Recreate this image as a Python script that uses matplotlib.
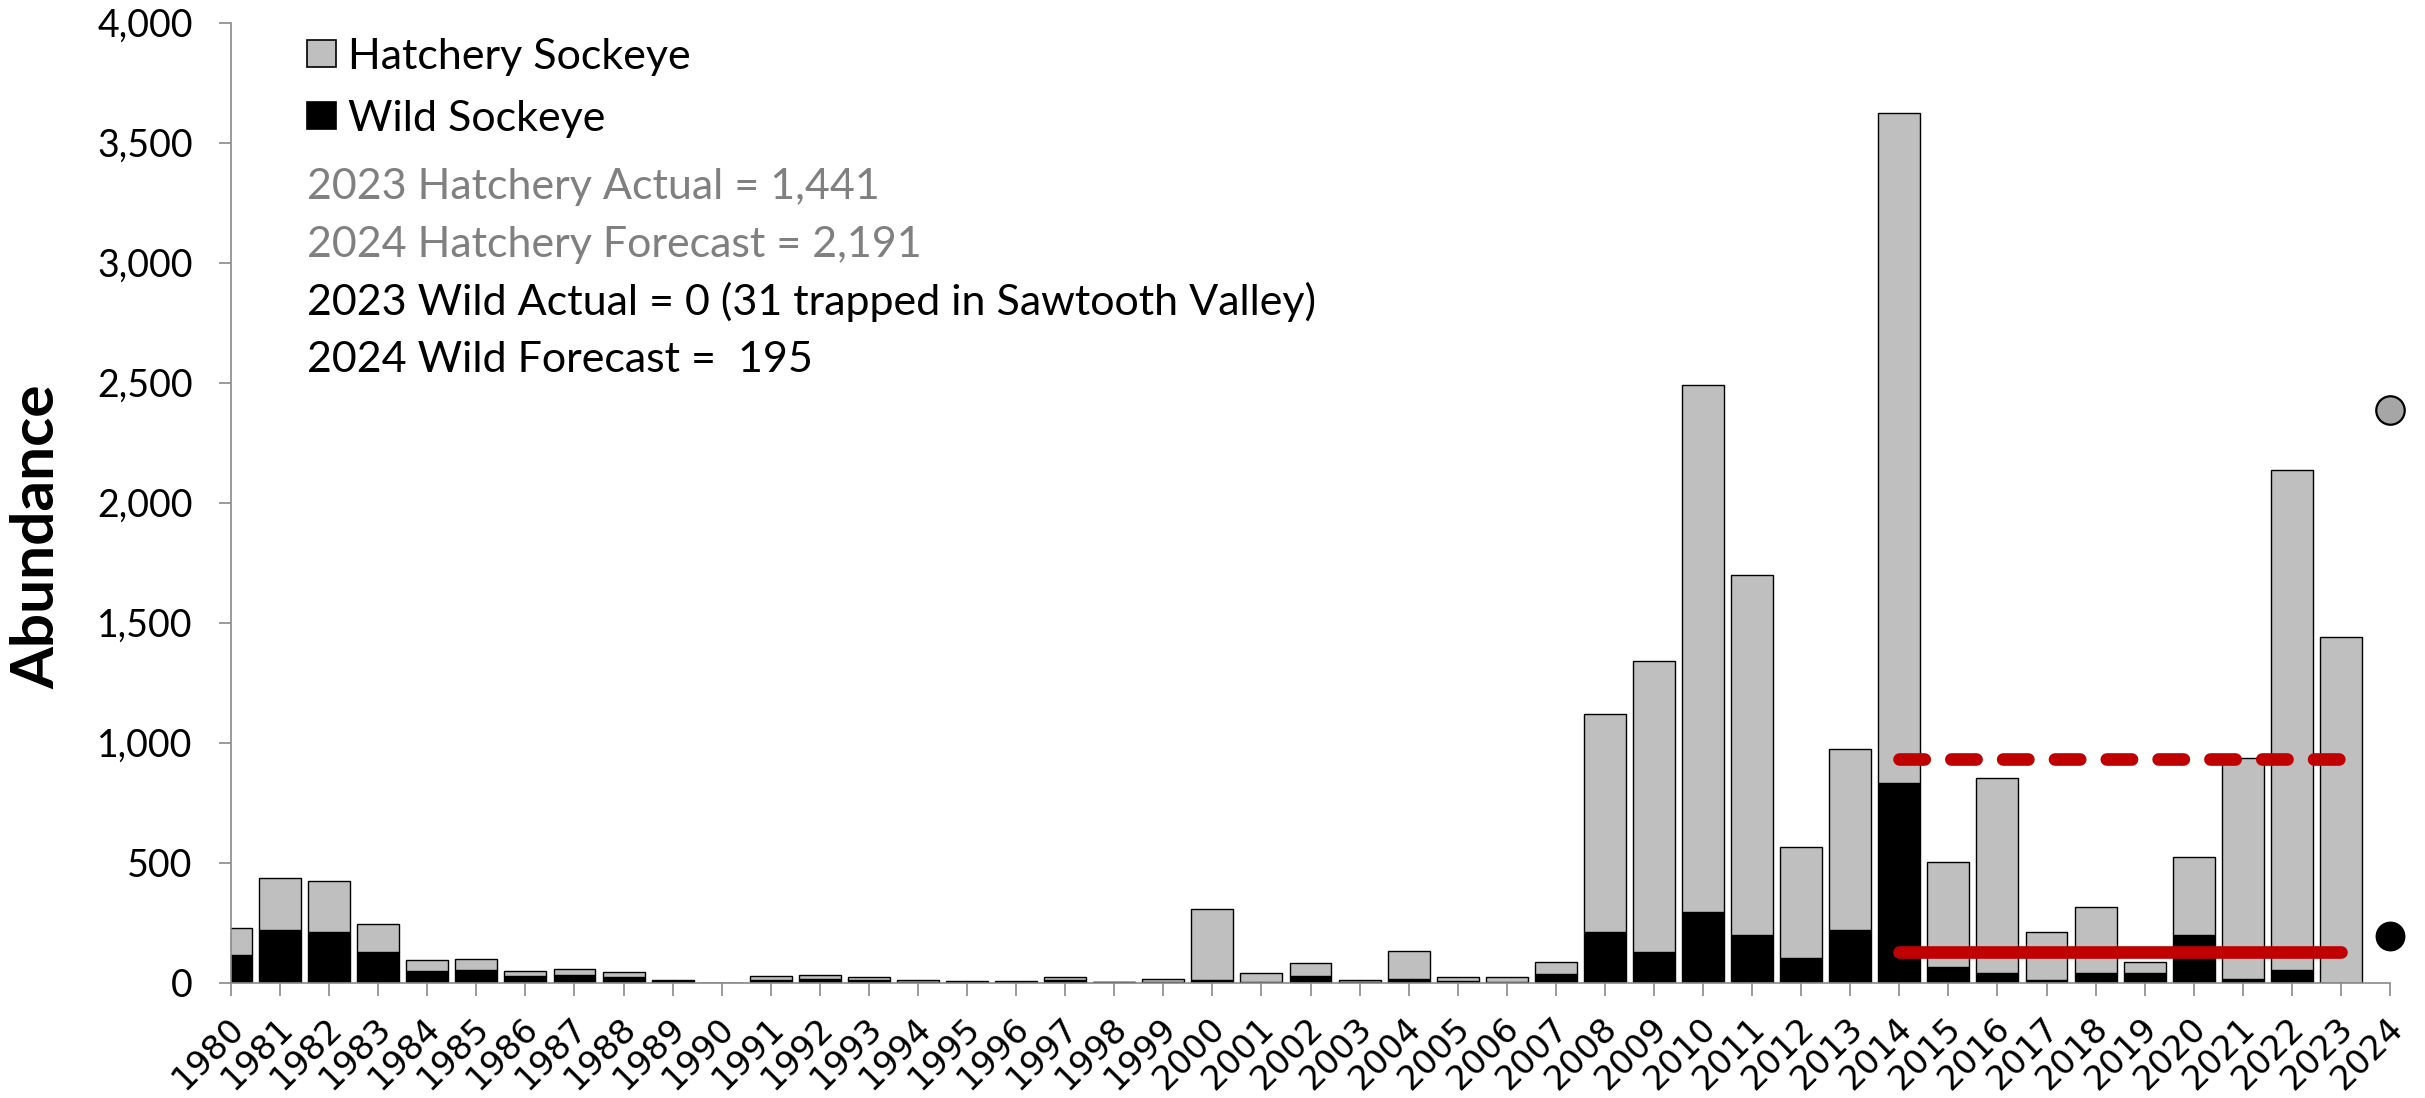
import numpy as np
import matplotlib
matplotlib.use("Agg")
import matplotlib.pyplot as plt
from matplotlib.patches import Patch
from matplotlib.ticker import FuncFormatter, MultipleLocator
import matplotlib.transforms as mtransforms

# ---------------- data ----------------
years = list(range(1980, 2025))
wild = [117, 221, 212, 126, 50, 53, 26, 32, 25, 7, 0, 12, 15, 10, 5, 3, 2, 10, 1, 1,
        10, 4, 26, 3, 17, 6, 4, 38, 211, 126, 294, 199, 101, 220, 834, 65, 42, 11, 42, 42,
        197, 16, 51, 0, np.nan]
hatchery = [112, 215, 210, 118, 44, 46, 23, 26, 21, 3, 0, 16, 17, 14, 5, 3, 4, 12, 2, 13,
            298, 36, 55, 7, 114, 18, 18, 50, 907, 1216, 2198, 1499, 464, 753, 2791, 439, 812, 200, 272, 45,
            327, 921, 2084, 1441, np.nan]
forecast_year = 2024
forecast_hatchery = 2191
forecast_wild = 195
avg_years = [2014, 2023]
hatchery_avg = 933
wild_avg = 130
legend_labels = ["Hatchery Sockeye", "Wild Sockeye"]
notes = ["2023 Hatchery Actual = 1,441",
         "2024 Hatchery Forecast = 2,191",
         "2023 Wild Actual = 0 (31 trapped in Sawtooth Valley)",
         "2024 Wild Forecast =  195"]
note_colors = ["#808080", "#808080", "black", "black"]
ylabel = "Abundance"

# ---------------- style ----------------
plt.rcParams["font.family"] = ["Lato", "DejaVu Sans"]
W, H = 2425, 1098
fig = plt.figure(figsize=(W / 100, H / 100), dpi=100)
ax = fig.add_axes([231 / W, 1 - 982.7 / H, (2390 - 231) / W, (982.7 - 22.7) / H])

HATCH_C = "#BFBFBF"
AXIS_C = "#898989"
RED = "#C00000"
bw = 0.855

x = np.array(years, dtype=float)
wild_a = np.array(wild, dtype=float)
hat_a = np.array(hatchery, dtype=float)
ax.bar(x, wild_a, width=bw, color="black", edgecolor="black", linewidth=1.0, zorder=2)
ax.bar(x, hat_a, bottom=wild_a, width=bw, color=HATCH_C, edgecolor="black", linewidth=1.0, zorder=2)

# 10-year averages
ax.plot(avg_years, [hatchery_avg, hatchery_avg], color=RED, lw=9.1, dashes=(2.0, 2.1),
        dash_capstyle="round", zorder=3)
ax.plot(avg_years, [wild_avg, wild_avg], color=RED, lw=9.1, solid_capstyle="round", zorder=3)

# forecasts
ax.plot([forecast_year], [forecast_hatchery + forecast_wild], "o", ms=20.5, mfc="#A6A6A6",
        mec="black", mew=1.6, clip_on=False, zorder=4)
ax.plot([forecast_year], [forecast_wild], "o", ms=20.5, mfc="black", mec="black",
        mew=1.0, clip_on=False, zorder=4)

ax.set_xlim(1980, 2024)
ax.set_ylim(0, 4000)
ax.yaxis.set_major_locator(MultipleLocator(500))
ax.yaxis.set_major_formatter(FuncFormatter(lambda v, p: f"{v:,.0f}"))

for s in ["top", "right"]:
    ax.spines[s].set_visible(False)
for s in ["left", "bottom"]:
    ax.spines[s].set_color(AXIS_C)
    ax.spines[s].set_linewidth(1.2)

ax.tick_params(axis="y", direction="out", length=8.6, width=1.2, color=AXIS_C,
               labelsize=27, pad=19)
ax.tick_params(axis="x", direction="out", length=9.4, width=1.2, color=AXIS_C, pad=19.5)

ax.set_xticks(years)
ax.set_xticklabels([str(y) for y in years], rotation=45, ha="right", va="center",
                   rotation_mode="anchor", fontfamily="DejaVu Sans", fontsize=24.5)
offset = mtransforms.ScaledTranslation(7.5 / 100, 0, fig.dpi_scale_trans)
for lbl in ax.get_xticklabels():
    lbl.set_transform(lbl.get_transform() + offset)

fig.text(37 / W, 1 - 537 / H, ylabel, rotation=90, ha="center", va="center",
         fontsize=43.5, fontweight="bold")

handles = [Patch(facecolor=HATCH_C, edgecolor="black", linewidth=1.2),
           Patch(facecolor="black", edgecolor="black", linewidth=1.2)]
leg = ax.legend(handles, legend_labels, loc="upper left",
                bbox_to_anchor=(307 / W, 1 - 38 / H), bbox_transform=fig.transFigure,
                frameon=False, borderpad=0, borderaxespad=0, handlelength=0.67,
                handleheight=0.6, handletextpad=0.28, labelspacing=0.55,
                prop={"family": "Lato", "size": 31})

baselines = [199, 256.7, 314.7, 372.3]
for t, c, b in zip(notes, note_colors, baselines):
    fig.text(307 / W, 1 - b / H, t, color=c, fontsize=31, va="baseline", ha="left")

fig.savefig("out.png", dpi=100)
